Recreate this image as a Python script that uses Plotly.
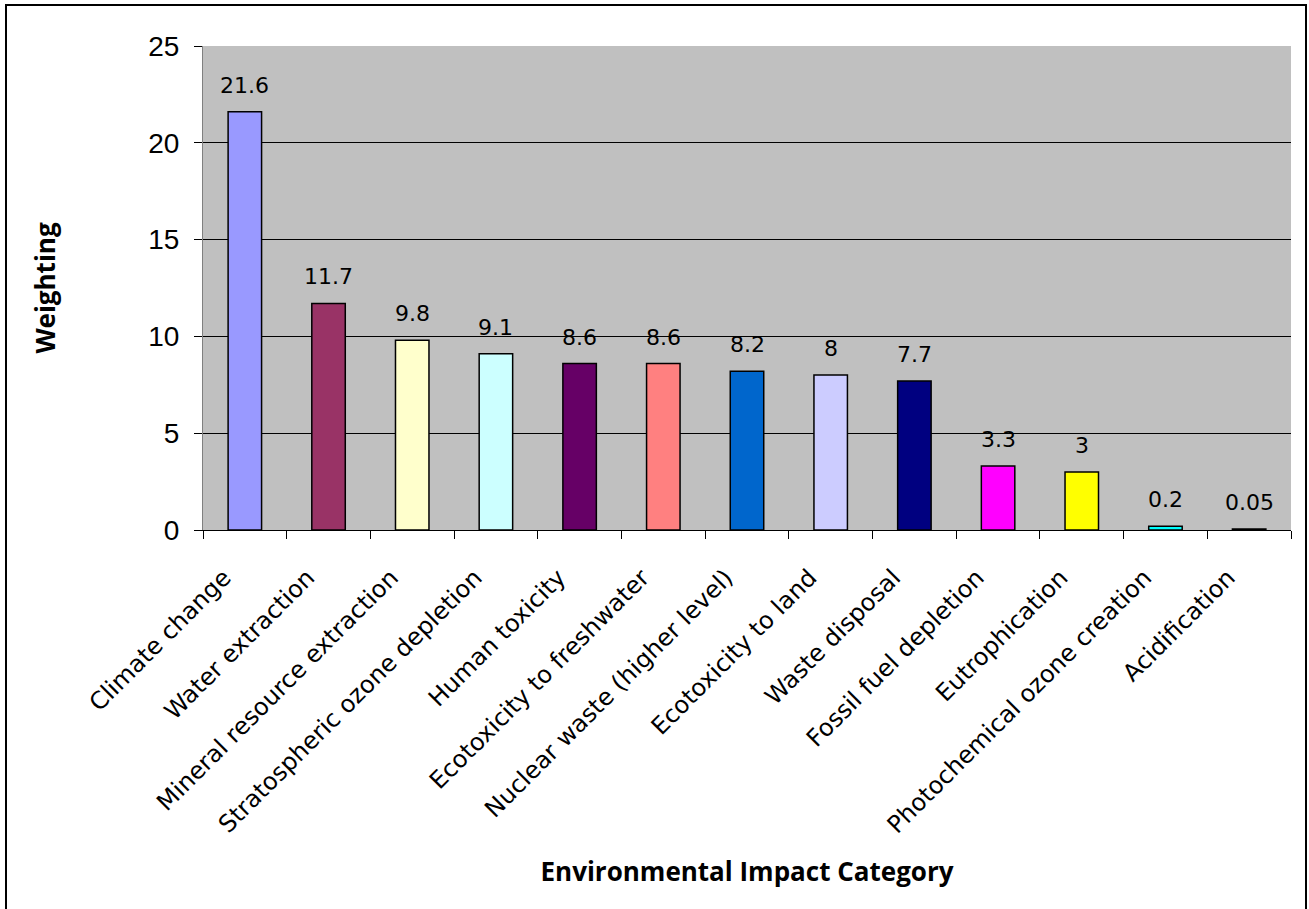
import plotly.graph_objects as go

# Weighting of each environmental impact category
categories = [
    "Climate change",
    "Water extraction",
    "Mineral resource extraction",
    "Stratospheric ozone depletion",
    "Human toxicity",
    "Ecotoxicity to freshwater",
    "Nuclear waste (higher level)",
    "Ecotoxicity to land",
    "Waste disposal",
    "Fossil fuel depletion",
    "Eutrophication",
    "Photochemical ozone creation",
    "Acidification",
]
weights = [21.6, 11.7, 9.8, 9.1, 8.6, 8.6, 8.2, 8, 7.7, 3.3, 3, 0.2, 0.05]
bar_colors = [
    "#9999FF", "#993366", "#FFFFCC", "#CCFFFF", "#660066", "#FF8080", "#0066CC",
    "#CCCCFF", "#000080", "#FF00FF", "#FFFF00", "#00FFFF", "#800080",
]
y_ticks = [0, 5, 10, 15, 20, 25]
y_grid = [5, 10, 15, 20]

LABEL_FONT = "DejaVu Sans, sans-serif"
TITLE_FONT = "Open Sans, Noto Sans, sans-serif"

fig = go.Figure(
    go.Bar(
        x=categories,
        y=weights,
        width=0.4,
        marker=dict(color=bar_colors, line=dict(color="black", width=1.5)),
        hoverinfo="x+y",
    )
)

# value labels floating above each bar
for cat, val in zip(categories, weights):
    fig.add_annotation(
        x=cat, y=val, text=f"{val:g}", showarrow=False,
        yanchor="bottom", yshift=12,
        font=dict(family=LABEL_FONT, size=22, color="black"),
    )

L, R, T, B = 203, 18, 46, 379
W, H = 1309, 909
pw, ph = W - L - R, H - T - B

fig.update_layout(
    width=W, height=H,
    margin=dict(l=L, r=R, t=T, b=B, autoexpand=False),
    paper_bgcolor="white",
    plot_bgcolor="#C0C0C0",
    showlegend=False,
    bargap=0.6,
    xaxis=dict(
        type="category",
        tickangle=-45,
        tickfont=dict(family=LABEL_FONT, size=24, color="black"),
        ticklabelstandoff=23, ticklabelshift=-21,
        showline=True, linecolor="black", linewidth=1,
        ticks="outside", tickson="boundaries", ticklen=8, tickcolor="black",
        showgrid=False, automargin=False,
        title=dict(text="<b>Environmental Impact Category</b>",
                   font=dict(family=TITLE_FONT, size=26, color="black"),
                   standoff=24),
    ),
    yaxis=dict(
        range=[0, 25],
        tickvals=y_ticks,
        tickfont=dict(family="Liberation Sans, Arial, sans-serif", size=28, color="black"),
        ticklabelstandoff=9,
        showline=True, linecolor="#808080", linewidth=1,
        ticks="outside", ticklen=8, tickcolor="black",
        showgrid=False,
        minor=dict(tickvals=y_grid, showgrid=True, gridcolor="black",
                   gridwidth=1, ticks=""),
        zeroline=False, automargin=False,
        title=dict(text="<b>Weighting</b>",
                   font=dict(family=TITLE_FONT, size=26, color="black"),
                   standoff=85),
    ),
)

# thin black frame around the whole chart
fig.add_shape(
    type="rect", xref="paper", yref="paper",
    x0=(6 - L) / pw, x1=(1306 - L) / pw,
    y0=-(H + 5 - (T + ph)) / ph, y1=(T + ph - 5) / ph,
    line=dict(color="black", width=2), fillcolor="rgba(0,0,0,0)", layer="below",
)

fig.write_html("out.html")
